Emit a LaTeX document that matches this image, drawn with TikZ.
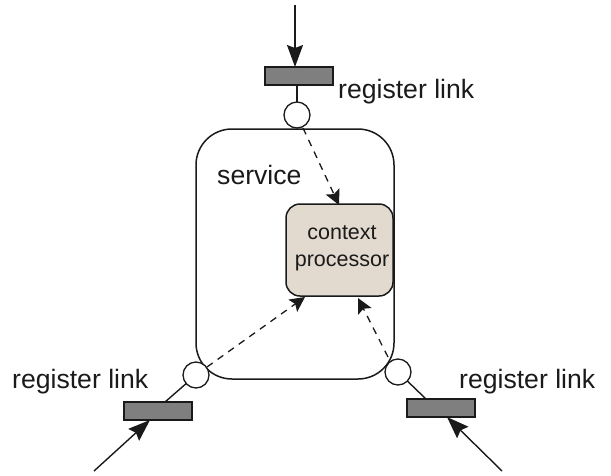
\documentclass[tikz,border=0pt]{standalone}
\usepackage{fontspec}
\setmainfont{Liberation Sans}
\usetikzlibrary{arrows.meta}
\definecolor{barfill}{HTML}{7F7F7F}
\definecolor{ctxfill}{HTML}{E2DACE}
\definecolor{ink}{HTML}{1A1A1A}
\tikzset{
  x=1pt,y=-1pt,
  link/.style={draw=ink,line width=1.5pt,fill=barfill,minimum width=68pt,minimum height=18pt,inner sep=0pt,outer sep=0pt},
  port/.style={circle,draw=ink,line width=1.3pt,fill=white,minimum size=26pt,inner sep=0pt,outer sep=0pt},
  wire/.style={draw=ink,line width=1.4pt},
  inflow/.style={wire,-{Stealth[length=22pt,width=16pt,inset=3pt]}},
  dep/.style={draw=ink,line width=1.3pt,dash pattern=on 7pt off 6pt,-{Stealth[length=15pt,width=15pt,inset=3pt]}},
  lab/.style={font=\fontsize{26.6}{30}\selectfont,text=ink,inner sep=0pt,anchor=base west},
}
\begin{document}
\begin{tikzpicture}
\useasboundingbox (0,0) rectangle (611,475);
\node[draw=ink,line width=1.5pt,rounded corners=36pt,minimum width=198pt,minimum height=250pt,inner sep=0pt,outer sep=0pt] (service) at (295,254) {};
\node[draw=ink,line width=1.5pt,fill=ctxfill,rounded corners=14pt,minimum width=107pt,minimum height=92pt,inner sep=0pt,outer sep=0pt] (ctx) at (339.5,250) {};
\node[font=\fontsize{21.5}{27}\selectfont,text=ink,align=center,inner sep=0pt] (ctxtext) at (342,248) {context\\processor};
\node[port] (pt) at (297,115) {};
\node[port] (pl) at (196,375) {};
\node[port] (pr) at (398,372) {};
\node[link] (bt) at (299,76) {};
\node[link] (bl) at (158,411) {};
\node[link] (br) at (441,408) {};
\coordinate (st) at (295,5);
\coordinate (sl) at (94,471);
\coordinate (sr) at (502,471);
\coordinate (et) at (295,67);
\coordinate (el) at (150,420);
\coordinate (er) at (447,417);
\coordinate (cl) at (165,402);
\coordinate (cr) at (426,399);
\coordinate (ct) at (297,85);
\coordinate (dt) at (339,205);
\coordinate (dl) at (305,297);
\coordinate (dr) at (358,298);
\draw[inflow] (st) -- (et);
\draw[inflow] (sl) -- (el);
\draw[inflow] (sr) -- (er);
\draw[wire] (ct) -- (pt);
\draw[wire] (cl) -- (pl);
\draw[wire] (cr) -- (pr);
\draw[dep] (pt) ++(6,13) -- (dt);
\draw[dep] (pl) ++(11,-8) -- (dl);
\draw[dep] (pr) ++(-10,-15) -- (dr);
\node[lab] (tt) at (338,98) {register link};
\node[lab] (tl) at (12,388) {register link};
\node[lab] (tr) at (459,388) {register link};
\node[lab] (ts) at (217,184) {service};
\end{tikzpicture}
\end{document}
